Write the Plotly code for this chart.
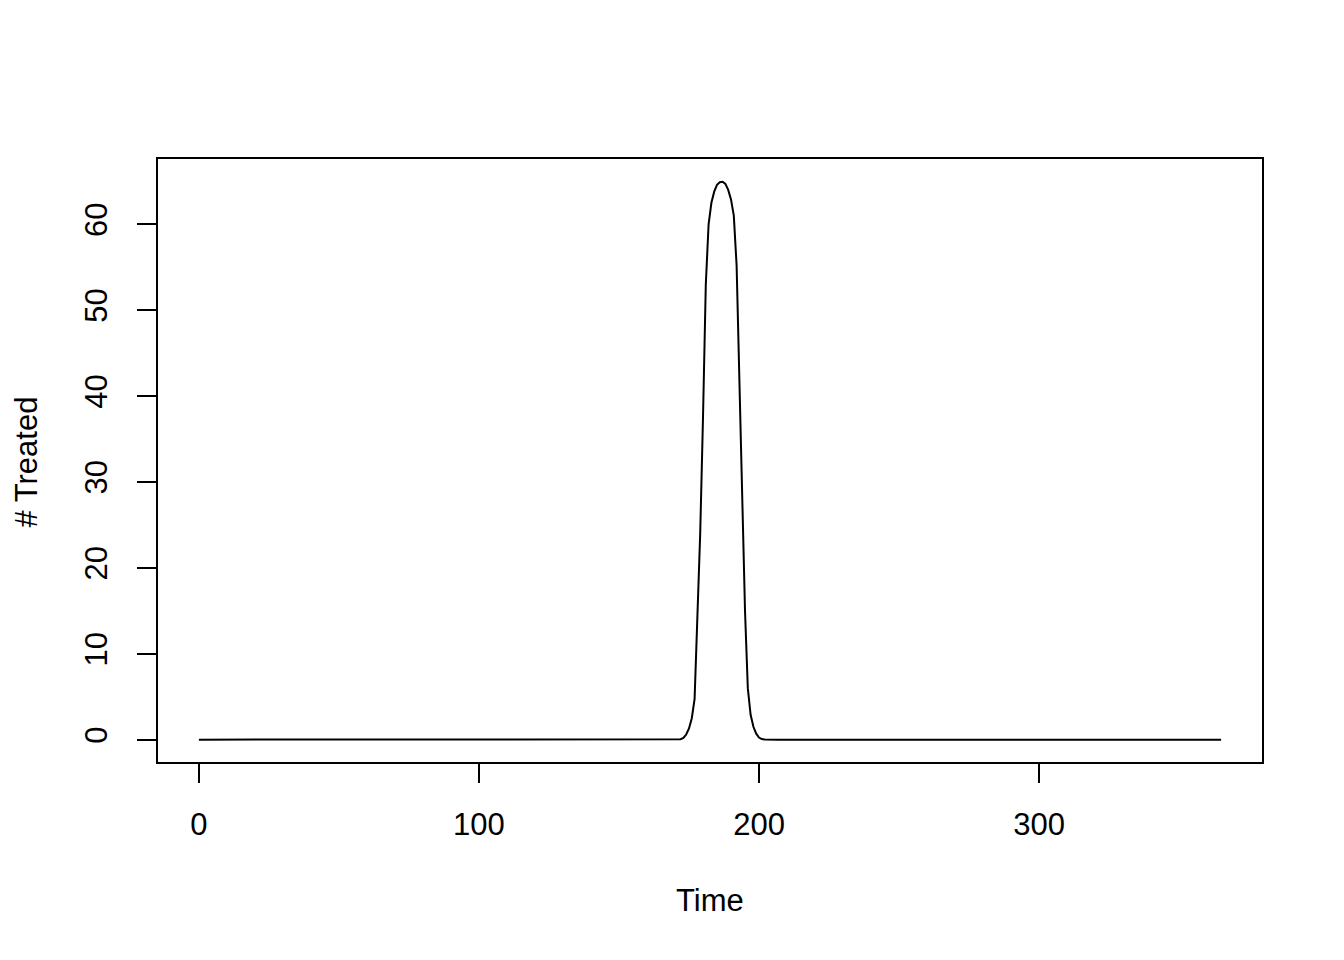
import plotly.graph_objects as go

# Daily number treated (days 0..365); non-zero only around the peak
peak_days = list(range(171, 203))
peak_values = [0.01, 0.05, 0.2, 0.6, 1.3, 2.5, 4.75, 13.5, 24.0, 37.5, 53.0, 60.0,
               62.5, 63.8, 64.6, 64.9, 64.95, 64.7, 64.0, 62.9, 61.0, 55.2, 40.5, 27.0,
               15.0, 6.0, 2.9, 1.5, 0.7, 0.25, 0.07, 0.02]
days = list(range(0, 366))
treated = [0.0] * len(days)
for d, v in zip(peak_days, peak_values):
    treated[d] = v

x_ticks = [0, 100, 200, 300]
y_ticks = [0, 10, 20, 30, 40, 50, 60]

FONT = "Liberation Sans, Arial, Helvetica, sans-serif"

fig = go.Figure()
fig.add_trace(go.Scatter(x=days, y=treated, mode="lines",
                         line=dict(color="black", width=2), hoverinfo="skip"))

axis_common = dict(showgrid=False, zeroline=False, showline=True, linecolor="black",
                   linewidth=2, mirror=True, ticks="outside", ticklen=19,
                   tickwidth=2, tickcolor="black",
                   tickfont=dict(family=FONT, size=31, color="black"))

fig.update_layout(
    width=1344, height=960,
    margin=dict(l=150, r=90, t=151, b=206),
    paper_bgcolor="white", plot_bgcolor="white",
    showlegend=False,
    xaxis=dict(range=[-14.6, 379.6], tickvals=x_ticks, ticktext=[str(v) for v in x_ticks],
               ticklabelstandoff=15, **axis_common),
    yaxis=dict(range=[-2.6, 67.6], tickvals=y_ticks, ticktext=[str(v) for v in y_ticks],
               tickangle=-90, ticklabelstandoff=18, **axis_common),
    annotations=[
        dict(text="Time", xref="paper", yref="paper", x=0.5, y=-0.229,
             xanchor="center", yanchor="middle", showarrow=False,
             font=dict(family=FONT, size=31, color="black")),
        dict(text="# Treated", xref="paper", yref="paper", x=-0.1193, y=0.497,
             xanchor="center", yanchor="middle", showarrow=False, textangle=-90,
             font=dict(family=FONT, size=31, color="black")),
    ],
)

fig.write_html("out.html")
